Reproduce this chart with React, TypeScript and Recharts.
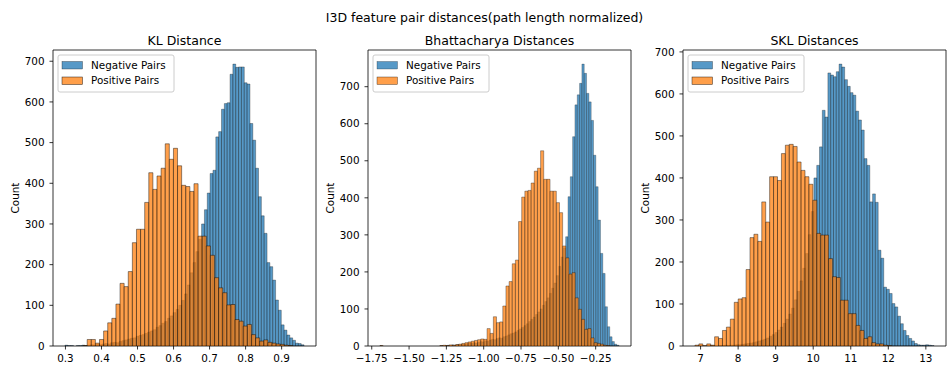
import { BarChart, Bar, XAxis, YAxis, ReferenceArea } from 'recharts';

const FONT = '"DejaVu Sans", sans-serif';
const BLUE = '#1f77b4';
const ORANGE = '#ff7f0e';

const SUPTITLE = 'I3D feature pair distances(path length normalized)';
const LEGEND_LABELS = ['Negative Pairs', 'Positive Pairs'];
const countTicks = [0, 100, 200, 300, 400, 500, 600, 700];

// KL distance: negative pairs histogram (bin edges start + k * bin)
const KL_NEG_START = 0.2986;
const KL_NEG_BIN = 0.0079;
const klNeg = [
  2, 1, 1, 0, 1, 1, 2, 1, 2, 3,
  2, 4, 3, 5, 6, 5, 8, 9, 8, 11,
  13, 15, 17, 19, 20, 24, 26, 28, 31, 34,
  37, 40, 46, 50, 56, 60, 68, 74, 82, 90,
  100, 112, 128, 150, 180, 205, 232, 262, 300, 335,
  376, 424, 432, 514, 527, 582, 596, 598, 668, 693,
  685, 686, 686, 647, 644, 547, 506, 437, 367, 320,
  277, 205, 195, 162, 113, 88, 52, 39, 27, 20,
  14, 7, 6, 3,
];
// KL distance: positive pairs
const KL_POS_START = 0.3489;
const KL_POS_BIN = 0.0114;
const klPos = [
  1, 16, 16, 7, 16, 37, 57, 68, 103, 154,
  146, 183, 254, 287, 287, 353, 426, 385, 418, 437,
  497, 459, 486, 443, 395, 392, 380, 399, 270, 270,
  246, 223, 168, 143, 131, 101, 102, 65, 61, 49,
  53, 28, 20, 12, 15, 9, 7, 5, 4, 2,
  1,
];
const klTicks = [0.3, 0.4, 0.5, 0.6, 0.7, 0.8, 0.9];

// Bhattacharya distances
const BH_NEG_START = -1.695;
const BH_NEG_BIN = 0.01555;
const bhNeg = [
  1, 0, 0, 0, 0, 0, 0, 0, 0, 0,
  0, 0, 0, 0, 0, 0, 0, 0, 0, 0,
  0, 0, 0, 0, 0, 0, 1, 0, 1, 2,
  1, 3, 2, 4, 3, 5, 4, 6, 8, 7,
  9, 8, 10, 12, 11, 14, 13, 16, 18, 17,
  20, 22, 21, 25, 27, 30, 33, 35, 38, 42,
  46, 50, 55, 60, 66, 72, 78, 85, 92, 100,
  110, 120, 130, 142, 156, 170, 190, 215, 240, 265,
  295, 403, 457, 565, 651, 678, 709, 761, 736, 682,
  659, 609, 515, 430, 340, 250, 196, 106, 52, 25,
  12, 5, 2,
];
const BH_POS_START = -1.695;
const BH_POS_BIN = 0.0211;
const bhPos = [
  1, 0, 0, 0, 0, 0, 0, 0, 0, 0,
  0, 0, 0, 0, 0, 0, 0, 0, 0, 1,
  2, 1, 3, 2, 4, 5, 7, 9, 11, 13,
  15, 17, 19, 18, 47, 34, 79, 63, 65, 108,
  162, 174, 222, 232, 336, 402, 418, 420, 440, 472,
  480, 527, 450, 450, 418, 418, 387, 360, 270, 238,
  194, 198, 130, 99, 72, 45, 47, 22, 9, 7,
  5, 2, 1,
];
const bhTicks = [-1.75, -1.5, -1.25, -1.0, -0.75, -0.5, -0.25];

// SKL distances
const SKL_NEG_START = 7.192;
const SKL_NEG_BIN = 0.0744;
const sklNeg = [
  0, 1, 0, 0, 1, 1, 2, 1, 2, 2,
  3, 3, 4, 5, 6, 7, 8, 10, 12, 14,
  16, 19, 23, 27, 32, 38, 45, 54, 64, 76,
  90, 110, 130, 155, 185, 220, 265, 320,
  400, 430, 474, 561, 545, 650, 645, 641, 653, 671,
  664, 634, 618, 603, 597, 559, 538, 514, 446, 430,
  343, 362, 342, 228, 209, 140, 135, 125, 101, 93,
  71, 53, 37, 25, 18, 12, 6, 3, 2, 2, 3, 2, 1,
];
const SKL_POS_START = 6.85;
const SKL_POS_BIN = 0.1047;
const sklPos = [
  2, 5, 1, 5, 2, 22, 18, 37, 45, 64,
  104, 112, 115, 182, 258, 266, 249, 343, 295, 403,
  403, 394, 458, 478, 480, 475, 438, 418, 403, 385,
  347, 268, 264, 264, 208, 165, 163, 109, 109, 77,
  77, 49, 37, 18, 22, 8, 5, 5, 2, 1,
];
const sklTicks = [7, 8, 9, 10, 11, 12, 13];

const W_Y = 45;
const PLOT_W = 263;
const PLOT_H = 296;
const TOP = 50;
const X_H = 24;
const RIGHT = 2;
const SMALL = 10.4;
const LARGE = 12.5;

type Hist = { start: number; bin: number; counts: number[] };
type PanelProps = {
  title: string;
  spine: number;
  neg: Hist;
  pos: Hist;
  ticks: number[];
  fmt: (v: number) => string;
};

const tickStyle = { fontSize: SMALL, fill: '#000', fontFamily: FONT };
const axisLine = { stroke: '#000', strokeWidth: 0.8 };

function Panel({ title, spine, neg, pos, ticks, fmt }: PanelProps) {
  // matplotlib style 5% margins around the bins
  const lo = Math.min(neg.start, pos.start);
  const hi = Math.max(neg.start + neg.bin * neg.counts.length, pos.start + pos.bin * pos.counts.length);
  const pad = (hi - lo) * 0.05;
  const xDomain: [number, number] = [lo - pad, hi + pad];
  const yTop = Math.max(...neg.counts, ...pos.counts) * 1.05;
  const pxPerUnit = PLOT_W / (xDomain[1] - xDomain[0]);

  const layers = [
    { hist: neg, color: BLUE },
    { hist: pos, color: ORANGE },
  ].map((l) => ({ ...l, barPx: l.hist.bin * pxPerUnit }));

  return (
    <>
      {layers.map((layer, i) => {
        const first = i === 0;
        const rows = layer.hist.counts.map((count, k) => ({
          x: layer.hist.start + (k + 0.5) * layer.hist.bin,
          count,
        }));
        return (
          <div key={i} style={{ position: 'absolute', left: spine - W_Y, top: 0 }}>
            <BarChart
              width={W_Y + PLOT_W + RIGHT}
              height={TOP + PLOT_H + X_H}
              data={rows}
              margin={first ? { top: TOP, right: RIGHT, bottom: 0, left: 0 } : { top: TOP, right: RIGHT, bottom: X_H, left: W_Y }}
              barCategoryGap={0}
              barGap={0}
            >
              <XAxis
                type="number"
                dataKey="x"
                domain={xDomain}
                allowDataOverflow
                hide={!first}
                ticks={ticks}
                interval={0}
                tickFormatter={fmt}
                height={X_H}
                axisLine={false}
                tickLine={axisLine}
                tickSize={3.5}
                tickMargin={5}
                tick={tickStyle}
              />
              <YAxis
                type="number"
                domain={[0, yTop]}
                allowDataOverflow
                hide={!first}
                ticks={countTicks}
                interval={0}
                width={W_Y}
                axisLine={false}
                tickLine={axisLine}
                tickSize={3.5}
                tickMargin={5}
                tick={tickStyle}
              />
              <Bar
                dataKey="count"
                fill={layer.color}
                fillOpacity={0.75}
                stroke="#000"
                strokeOpacity={0.75}
                strokeWidth={0.14 * layer.barPx}
                barSize={layer.barPx * 0.999}
                isAnimationActive={false}
              />
              {!first && (
                <ReferenceArea
                  x1={xDomain[0]}
                  x2={xDomain[1]}
                  y1={0}
                  y2={yTop}
                  fill="none"
                  stroke="#000"
                  strokeWidth={0.8}
                  ifOverflow="visible"
                />
              )}
            </BarChart>
          </div>
        );
      })}
      <svg width={947} height={370} style={{ position: 'absolute', left: 0, top: 0 }} fontFamily={FONT}>
        <text x={spine + PLOT_W / 2} y={44.5} textAnchor="middle" fontSize={LARGE} fill="#000">
          {title}
        </text>
        <text
          transform={`translate(${spine - 34.5}, ${TOP + PLOT_H / 2}) rotate(-90)`}
          textAnchor="middle"
          fontSize={SMALL}
          fill="#000"
        >
          Count
        </text>
        <rect x={spine + 5} y={55} width={116} height={37} rx={2} fill="#fff" fillOpacity={0.8} stroke="#ccc" strokeWidth={1} />
        {LEGEND_LABELS.map((label, i) => (
          <g key={label}>
            <rect
              x={spine + 9}
              y={61.5 + i * 15.5}
              width={20.5}
              height={7.5}
              fill={layers[i].color}
              fillOpacity={0.75}
              stroke="#000"
              strokeOpacity={0.75}
              strokeWidth={0.14 * layers[i].barPx}
            />
            <text x={spine + 38} y={68.8 + i * 15.5} fontSize={SMALL} fill="#000">
              {label}
            </text>
          </g>
        ))}
      </svg>
    </>
  );
}

const minus = (v: number) => v.toFixed(2).replace('-', '\u2212');

export default function App() {
  return (
    <div
      style={{
        position: 'absolute',
        left: 0,
        top: 0,
        width: 947,
        height: 370,
        background: '#fff',
        overflow: 'hidden',
        fontFamily: FONT,
      }}
    >
      <svg width={947} height={370} style={{ position: 'absolute', left: 0, top: 0 }} fontFamily={FONT}>
        <text x={484.5} y={21.5} textAnchor="middle" fontSize={LARGE} fill="#000">
          {SUPTITLE}
        </text>
      </svg>
      <Panel
        title="KL Distance"
        spine={53}
        neg={{ start: KL_NEG_START, bin: KL_NEG_BIN, counts: klNeg }}
        pos={{ start: KL_POS_START, bin: KL_POS_BIN, counts: klPos }}
        ticks={klTicks}
        fmt={(v) => v.toFixed(1)}
      />
      <Panel
        title="Bhattacharya Distances"
        spine={368}
        neg={{ start: BH_NEG_START, bin: BH_NEG_BIN, counts: bhNeg }}
        pos={{ start: BH_POS_START, bin: BH_POS_BIN, counts: bhPos }}
        ticks={bhTicks}
        fmt={minus}
      />
      <Panel
        title="SKL Distances"
        spine={683}
        neg={{ start: SKL_NEG_START, bin: SKL_NEG_BIN, counts: sklNeg }}
        pos={{ start: SKL_POS_START, bin: SKL_POS_BIN, counts: sklPos }}
        ticks={sklTicks}
        fmt={(v) => String(v)}
      />
    </div>
  );
}
